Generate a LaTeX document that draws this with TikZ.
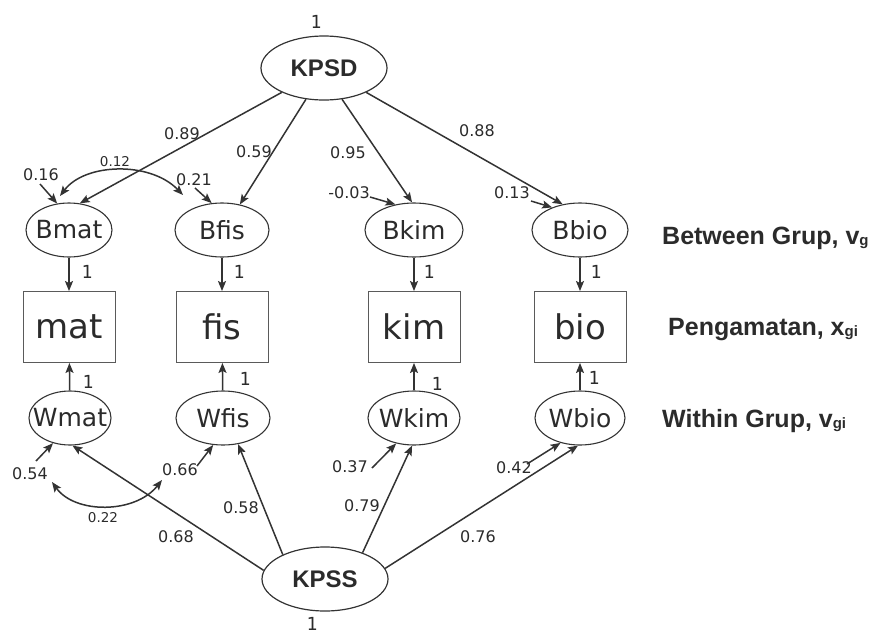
\documentclass[tikz,border=0pt]{standalone}
\usepackage{fontspec}
\setmainfont{DejaVu Sans}
\newfontfamily\headf{Liberation Sans}
\newfontfamily\onef{DejaVu Sans Mono}
\usetikzlibrary{shapes.geometric,arrows.meta}
\definecolor{ink}{HTML}{2B2B2B}
\definecolor{edgec}{HTML}{333333}
\definecolor{boxc}{HTML}{5A5A5A}
\newcommand\lowsub[1]{{\fontsize{15}{15}\selectfont\raisebox{-1.5pt}{#1}}}
\begin{document}
\begin{tikzpicture}[x=1pt,y=-1pt,
  every node/.style={text=ink},
  latent/.style={ellipse, draw=edgec, line width=1.1pt, minimum height=54pt, inner sep=0pt,
    font=\fontsize{25}{25}\selectfont},
  factor/.style={ellipse, draw=edgec, line width=1.2pt, minimum width=126pt, minimum height=64pt,
    inner sep=0pt, font=\headf\bfseries\fontsize{24}{24}\selectfont},
  obs/.style={rectangle, draw=boxc, line width=0.9pt, minimum width=92pt, minimum height=71pt,
    inner sep=0pt, font=\fontsize{34}{34}\selectfont},
  reg/.style={draw=edgec, line width=1.5pt, -{Stealth[length=10pt,width=8pt,inset=2pt]}},
  cov/.style={draw=edgec, line width=1.5pt,
    {Stealth[length=10pt,width=8pt,inset=2pt]}-{Stealth[length=10pt,width=8pt,inset=2pt]}},
  coef/.style={font=\fontsize{16}{16}\selectfont, inner sep=0pt},
  coefsmall/.style={font=\fontsize{13.5}{13.5}\selectfont, inner sep=0pt},
  unit/.style={font=\onef\fontsize{18}{18}\selectfont, inner sep=0pt},
  rowlab/.style={anchor=base west, inner sep=0pt, font=\headf\bfseries\fontsize{25}{25}\selectfont},
]
\useasboundingbox (0,0) rectangle (881,635);

% factors
\node[factor] (KPSD) at (324,68) {\makebox[0pt]{KPSD}};
\node[factor] (KPSS) at (325,579) {\makebox[0pt]{KPSS}};
\node[unit] (vKPSD) at (316,22) {1};
\node[unit] (vKPSS) at (312,624) {1};

% between-group latents
\node[latent, minimum width=86pt] (Bmat) at (69,230) {\makebox[0pt]{Bmat}};
\node[latent, minimum width=94pt] (Bfis) at (222,230) {\makebox[0pt]{Bfis}};
\node[latent, minimum width=98pt] (Bkim) at (414,230) {\makebox[0pt]{Bkim}};
\node[latent, minimum width=96pt] (Bbio) at (580,230) {\makebox[0pt]{Bbio}};

% observed scores
\node[obs] (mat) at (69,327) {mat};
\node[obs] (fis) at (222,327) {fis};
\node[obs] (kim) at (414,327) {kim};
\node[obs] (bio) at (580,327) {bio};

% within-group latents
\node[latent, minimum width=82pt] (Wmat) at (70,418) {\makebox[0pt]{Wmat}};
\node[latent, minimum width=94pt] (Wfis) at (223,418) {\makebox[0pt]{Wfis}};
\node[latent, minimum width=92pt] (Wkim) at (414,418) {\makebox[0pt]{Wkim}};
\node[latent, minimum width=90pt] (Wbio) at (580,418) {\makebox[0pt]{Wbio}};

% row captions
\node[rowlab] (capB) at (662,244) {Between Grup, v\lowsub{g}};
\node[rowlab] (capX) at (668,335) {Pengamatan, x\lowsub{gi}};
\node[rowlab] (capW) at (662,427) {Within Grup, v\lowsub{gi}};

% loadings of KPSD
\draw[reg] (KPSD.210) -- (Bmat.68);
\draw[reg] (KPSD.240) -- (Bfis.55);
\draw[reg] (KPSD.300) -- (Bkim.94);
\draw[reg] (KPSD.330) -- (Bbio.124);
\node[coef] (lB1) at (182,134) {0.89};
\node[coef] (lB2) at (254,152) {0.59};
\node[coef] (lB3) at (348,153) {0.95};
\node[coef] (lB4) at (477,131) {0.88};

% loadings of KPSS
\draw[reg] (KPSS.172) -- (Wmat.275);
\draw[reg] (KPSS.150) -- (Wfis.300);
\draw[reg] (KPSS.35) -- (Wkim.266);
\draw[reg] (KPSS.10) -- (Wbio.266);
\node[coef] (lW1) at (176,537) {0.68};
\node[coef] (lW2) at (241,508) {0.58};
\node[coef] (lW3) at (362,506) {0.79};
\node[coef] (lW4) at (478,537) {0.76};

% fixed paths to the observed scores
\foreach \b/\x in {Bmat/mat,Bfis/fis,Bkim/kim,Bbio/bio}{
  \draw[reg] (\b) -- (\x);
}
\foreach \w/\x in {Wmat/mat,Wfis/fis,Wkim/kim,Wbio/bio}{
  \draw[reg] (\w) -- (\x);
}
\node[unit] (uB1) at (87,272) {1};
\node[unit] (uB2) at (239,272) {1};
\node[unit] (uB3) at (429,272) {1};
\node[unit] (uB4) at (596,272) {1};
\node[unit] (uW1) at (88,382) {1};
\node[unit] (uW2) at (245,379) {1};
\node[unit] (uW3) at (437,384) {1};
\node[unit] (uW4) at (594,378) {1};

% residual variances, between level
\coordinate (rB1) at (40,184);
\coordinate (rB2) at (195,188);
\coordinate (rB3) at (370,197);
\coordinate (rB4) at (531,201);
\draw[reg] (rB1) -- (Bmat.114);
\draw[reg] (rB2) -- (Bfis.111);
\draw[reg] (rB3) -- (Bkim.126);
\draw[reg] (rB4) -- (Bbio.141);
\node[coef] (eB1) at (41,175) {0.16};
\node[coef] (eB2) at (194,180) {0.21};
\node[coef] (eB3) at (349,193) {-0.03};
\node[coef] (eB4) at (512,193) {0.13};

% residual variances, within level
\coordinate (rW1) at (36,461);
\coordinate (rW2) at (197,466);
\coordinate (rW3) at (372,468);
\coordinate (rW4) at (527,464);
\draw[reg] (rW1) -- (Wmat.236);
\draw[reg] (rW2) -- (Wfis.250);
\draw[reg] (rW3) -- (Wkim.235);
\draw[reg] (rW4) -- (Wbio.232);
\node[coef] (eW1) at (30,474) {0.54};
\node[coef] (eW2) at (180,470) {0.66};
\node[coef] (eW3) at (350,467) {0.37};
\node[coef] (eW4) at (514,468) {0.42};

% residual covariances
\coordinate (cBa) at (60,196);
\coordinate (cBb) at (183,195);
\draw[cov] (cBa) .. controls (85,163) and (150,161) .. (cBb);
\node[coefsmall] (kB) at (115,162) {0.12};
\coordinate (cWa) at (52,482);
\coordinate (cWb) at (162,480);
\draw[cov] (cWa) .. controls (75,514) and (135,514) .. (cWb);
\node[coefsmall] (kW) at (103,518) {0.22};
\end{tikzpicture}
\end{document}
